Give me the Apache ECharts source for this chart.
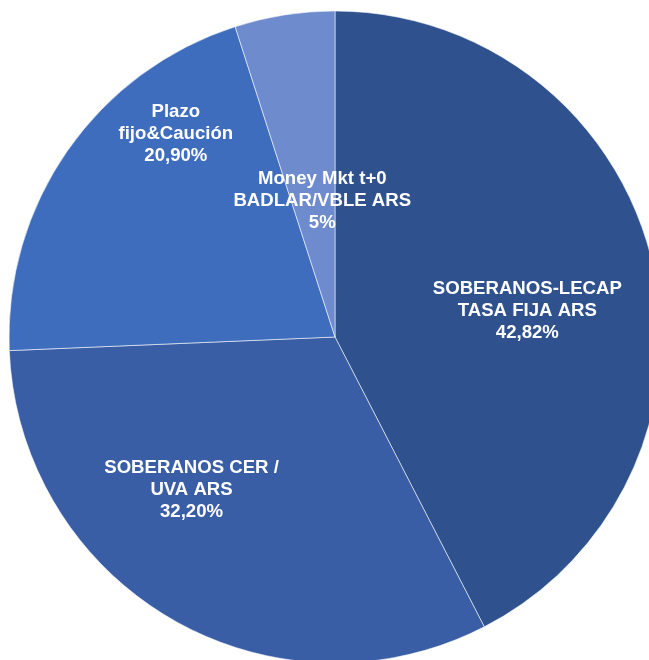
<!DOCTYPE html>
<html>
<head>
<meta charset="utf-8">
<script src="https://cdn.jsdelivr.net/npm/echarts@6/dist/echarts.min.js"></script>
<style>
html,body{margin:0;padding:0;background:#fff;}
#chart{width:649px;height:660px;}
</style>
</head>
<body>
<div id="chart"></div>
<script>
const categories = [
  "SOBERANOS-LECAP\nTASA FIJA ARS",
  "SOBERANOS CER /\nUVA ARS",
  "Plazo\nfijo&Caución",
  "Money Mkt t+0\nBADLAR/VBLE ARS"
];
const values = [42.82, 32.20, 20.90, 5];
const colors = ["#2F528F", "#3A5EA6", "#3F6DBE", "#6E8BCE"];
const labelShift = [[31, 13], [-60, 9], [-23, -108], [13, 28]];

function fmt(v) {
  const s = Number.isInteger(v) ? String(v) : v.toFixed(2);
  return s.replace('.', ',') + '%';
}

const chart = echarts.init(document.getElementById('chart'));
chart.setOption({
  animation: false,
  series: [{
    type: 'pie',
    center: [335, 337],
    radius: [0, 326],
    startAngle: 90,
    clockwise: true,
    data: categories.map((c, i) => ({
      name: c,
      value: values[i],
      itemStyle: { color: colors[i] }
    })),
    itemStyle: { borderColor: 'rgba(255,255,255,0.55)', borderWidth: 1 },
    label: {
      show: true,
      position: 'inside',
      color: '#fff',
      fontFamily: 'Liberation Sans, Arial, sans-serif',
      fontWeight: 'bold',
      fontSize: 18.6,
      lineHeight: 22,
      align: 'center',
      formatter: p => p.name + '\n' + fmt(p.value)
    },
    labelLayout: p => ({ dx: labelShift[p.dataIndex][0], dy: labelShift[p.dataIndex][1] }),
    labelLine: { show: false },
    emphasis: { disabled: true }
  }]
});
</script>
</body>
</html>
